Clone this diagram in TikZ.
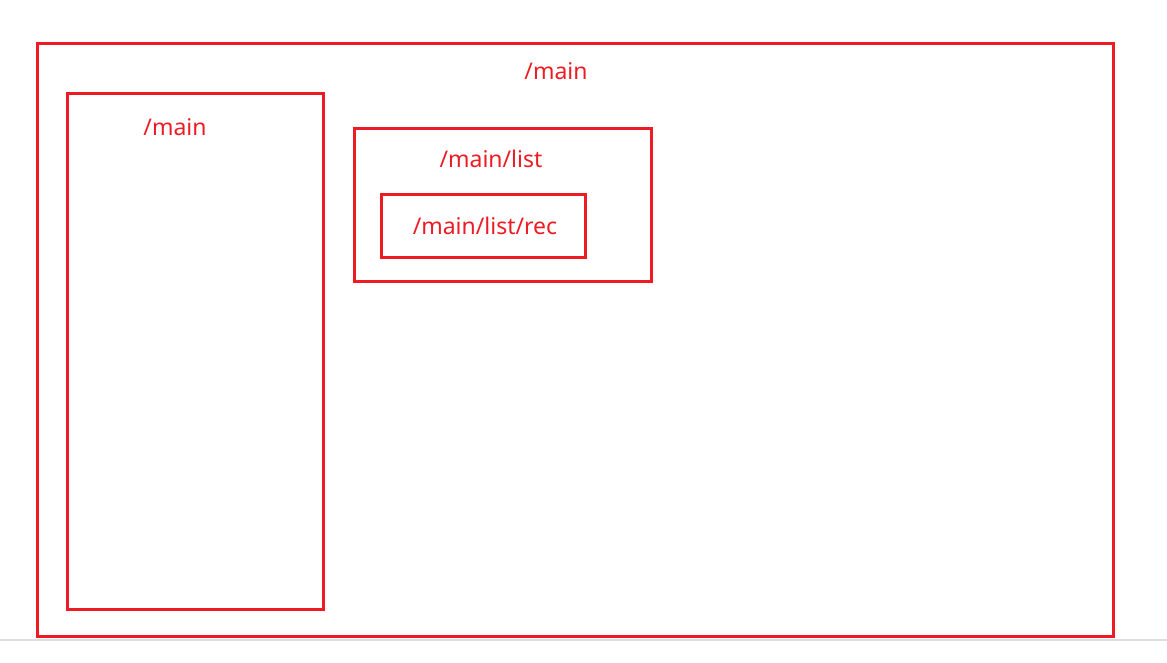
\documentclass[tikz,border=0pt]{standalone}
\usepackage{fontspec}
\setmainfont{Noto Sans}
\definecolor{boxred}{HTML}{ED1C24}
\definecolor{rulegray}{HTML}{DDDDDD}
\begin{document}
\begin{tikzpicture}[x=1pt,y=-1pt,
  frame/.style={draw=boxred,line width=3pt},
  lbl/.style={text=boxred,font=\fontsize{23}{26}\selectfont,inner sep=0pt,anchor=center}]
\useasboundingbox (0,0) rectangle (1167,662);
\draw[rulegray,line width=1.5pt] (0,640) -- (1167,640);
\draw[frame] (37,43) rectangle (1113,636);
\draw[frame] (67,93) rectangle (323,609);
\draw[frame] (354,128) rectangle (651,281);
\draw[frame] (381,194) rectangle (585,257);
\node[lbl] (t1) at (556,71) {/main};
\node[lbl] (t2) at (175,127) {/main};
\node[lbl] (t3) at (491,159) {/main/list};
\node[lbl] (t4) at (485,226) {/main/list/rec};
\end{tikzpicture}
\end{document}
